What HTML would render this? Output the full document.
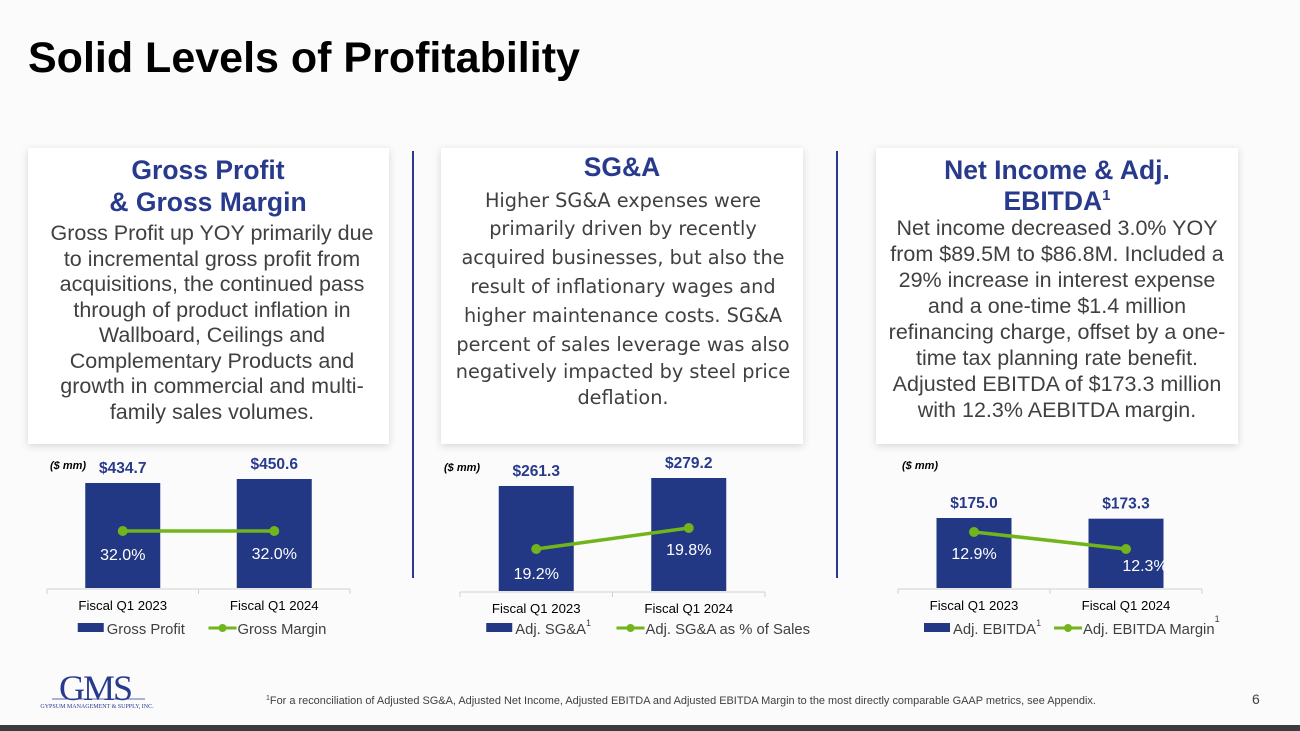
<!DOCTYPE html>
<html><head><meta charset="utf-8">
<style>
body{margin:0;background:#fbfbfb;}
svg{display:block;font-family:"Liberation Sans",Arial,sans-serif;}
.t{fill:#283a8c;font-weight:bold;font-size:26.5px;text-anchor:middle}
.b{fill:#404040;font-size:21.5px;text-anchor:middle}
.b2{fill:#404040;text-anchor:middle;font-family:"DejaVu Sans","Liberation Sans",sans-serif;font-size:19.3px}
</style></head>
<body>
<svg id="s" width="1300" height="731" viewBox="0 0 1300 731">
<defs><filter id="sh" x="-5%" y="-5%" width="110%" height="110%"><feDropShadow dx="0" dy="2" stdDeviation="4" flood-color="#000" flood-opacity="0.15"/></filter></defs>
<rect width="1300" height="731" fill="#fbfbfb"/>
<text x="28" y="72" font-size="43" font-weight="bold" fill="#000">Solid Levels of Profitability</text>

<g>
<rect x="28" y="148" width="361" height="296" fill="#fff" filter="url(#sh)"/>
<text class="t" x="208" y="179">Gross Profit</text>
<text class="t" x="208" y="211">&amp; Gross Margin</text>
<text class="b" x="212" y="240">Gross Profit up YOY primarily due</text>
<text class="b" x="212" y="266">to incremental gross profit from</text>
<text class="b" x="212" y="291">acquisitions, the continued pass</text>
<text class="b" x="212" y="317">through of product inflation in</text>
<text class="b" x="212" y="342">Wallboard, Ceilings and</text>
<text class="b" x="212" y="368">Complementary Products and</text>
<text class="b" x="212" y="393">growth in commercial and multi-</text>
<text class="b" x="212" y="419">family sales volumes.</text>
</g>
<g>
<rect x="441" y="148" width="362" height="296" fill="#fff" filter="url(#sh)"/>
<text class="t" x="622" y="176">SG&amp;A</text>
<text class="b2" x="623" y="207">Higher SG&amp;A expenses were</text>
<text class="b2" x="623" y="235">primarily driven by recently</text>
<text class="b2" x="623" y="264">acquired businesses, but also the</text>
<text class="b2" x="623" y="293">result of inflationary wages and</text>
<text class="b2" x="623" y="322">higher maintenance costs.  SG&amp;A</text>
<text class="b2" x="623" y="351">percent of sales leverage was also</text>
<text class="b2" x="623" y="378">negatively impacted by steel price</text>
<text class="b2" x="623" y="404">deflation.</text>
</g>
<g>
<rect x="876" y="148" width="362" height="296" fill="#fff" filter="url(#sh)"/>
<text class="t" x="1057" y="179">Net Income &amp; Adj.</text>
<text class="t" x="1057" y="210">EBITDA<tspan font-size="15" dy="-10">1</tspan></text>
<text class="b" x="1057" y="235">Net income decreased 3.0% YOY</text>
<text class="b" x="1057" y="261">from $89.5M to $86.8M. Included a</text>
<text class="b" x="1057" y="287">29% increase in interest expense</text>
<text class="b" x="1057" y="313">and a one-time $1.4 million</text>
<text class="b" x="1057" y="339">refinancing charge, offset by a one-</text>
<text class="b" x="1057" y="365">time tax planning rate benefit.</text>
<text class="b" x="1057" y="391">Adjusted EBITDA of $173.3 million</text>
<text class="b" x="1057" y="417">with 12.3% AEBITDA margin.</text>
</g>
<line x1="413" y1="151" x2="413" y2="578" stroke="#283a8c" stroke-width="2"/>
<line x1="837" y1="151" x2="837" y2="578" stroke="#283a8c" stroke-width="2"/>

<g id="charts"></g>

<g>
<text x="95" y="700" font-family="Liberation Serif,serif" font-size="36" fill="#283a8c" text-anchor="middle" letter-spacing="-2">GMS</text>
<line x1="52" y1="699" x2="145" y2="699" stroke="#283a8c" stroke-width="0.8"/>
<text x="97" y="708" font-family="Liberation Serif,serif" font-size="6" fill="#283a8c" text-anchor="middle">GYPSUM MANAGEMENT &amp; SUPPLY, INC.</text>
</g>
<text x="266" y="704" font-size="10.95" fill="#404040"><tspan font-size="7" dy="-4">1</tspan><tspan dy="4">For a reconciliation of Adjusted SG&amp;A, Adjusted Net Income, Adjusted EBITDA and Adjusted EBITDA Margin to the most directly comparable GAAP metrics, see Appendix.</tspan></text>
<text x="1252" y="704" font-size="14" fill="#404040">6</text>
<rect x="0" y="725" width="1300" height="6" fill="#3c3c3c"/>
</svg>
<script>
const categories = ["Fiscal Q1 2023", "Fiscal Q1 2024"];
const grossProfit = [434.7, 450.6];
const grossMargin = [32.0, 32.0];
const sgaValues = [261.3, 279.2];
const sgaPct = [19.2, 19.8];
const ebitdaValues = [175.0, 173.3];
const ebitdaMargin = [12.9, 12.3];

const NS = "http://www.w3.org/2000/svg";
const root = document.getElementById("charts");
function mk(tag, attrs, parent, txt) {
  const e = document.createElementNS(NS, tag);
  for (const k in attrs) e.setAttribute(k, attrs[k]);
  if (txt !== undefined) e.textContent = txt;
  parent.appendChild(e);
  return e;
}
function lin(d0, d1, r0, r1) { return v => r0 + (v - d0) / (d1 - d0) * (r1 - r0); }

const cfg = [
  {name:"gross-profit", bars:grossProfit, line:grossMargin, x0:47, x1:350, base:588,
   yb:lin(17, 450.6, 588, 479), yl:lin(31, 32, 566, 531), unit:"($ mm)", unitX:50, unitY:469,
   legB:"Gross Profit", legL:"Gross Margin", sup:false, legY:633, pctOff:[29,28], shift:[0,0]},
  {name:"sga", bars:sgaValues, line:sgaPct, x0:460, x1:765, base:591,
   yb:lin(26, 279.2, 591, 478), yl:lin(19.2, 19.8, 549, 528), unit:"($ mm)", unitX:444, unitY:471,
   legB:"Adj. SG&A", legL:"Adj. SG&A as % of Sales", sup:true, legY:633, pctOff:[30,27], shift:[0,0]},
  {name:"ebitda", bars:ebitdaValues, line:ebitdaMargin, x0:898, x1:1202, base:588,
   yb:lin(0, 175, 588, 518), yl:lin(12.3, 12.9, 549, 532), unit:"($ mm)", unitX:902, unitY:469,
   legB:"Adj. EBITDA", legL:"Adj. EBITDA Margin", sup:true, legY:633, pctOff:[27,22], shift:[0,19]}
];

cfg.forEach(c => {
  const g = mk("g", {}, root);
  
  
  const bw = (c.x1 - c.x0) / categories.length;
  const u = mk("text", {x:c.unitX, y:c.unitY, "font-size":11, "font-weight":"bold", "font-style":"italic", fill:"#000"}, g, c.unit);
  
  
  const pts = [];
  c.bars.forEach((v, i) => {
    const cx = c.x0 + bw * (i + 0.5);
    const top = c.yb(v);
    const r = mk("rect", {x:cx - 37.5, y:top, width:75, height:c.base - top, fill:"#233884"}, g);
    
    
    const lbl = mk("text", {x:cx, y:top - 10, "font-size":15.5, "font-weight":"bold", fill:"#283a8c", "text-anchor":"middle"}, g, "$" + v.toFixed(1));
    
    
    const cat = mk("text", {x:cx, y:c.base + 22, "font-size":13.2, fill:"#000", "text-anchor":"middle"}, g, categories[i]);
    
    
    pts.push([cx, c.yl(c.line[i])]);
  });
  const ax = mk("path", {d:`M${c.x0} ${c.base+1}H${c.x1}M${c.x0} ${c.base+1}v5M${(c.x0+c.x1)/2} ${c.base+1}v5M${c.x1} ${c.base+1}v5`, stroke:"#d0d0d0", "stroke-width":1, fill:"none"}, g);
  
  
  const pl = mk("polyline", {points:pts.map(p => p.join(",")).join(" "), stroke:"#72b41c", "stroke-width":3.5, fill:"none"}, g);
  
  
  pts.forEach((p, i) => {
    const d = mk("circle", {cx:p[0], cy:p[1], r:5, fill:"#72b41c"}, g);
    
    
    const t = mk("text", {x:p[0] + c.shift[i], y:p[1] + c.pctOff[i], "font-size":16, fill:"#fff", "text-anchor":"middle"}, g, c.line[i].toFixed(1) + "%");
    
    
  });
  const mid = (c.x0 + c.x1) / 2;
  const lg = mk("g", {}, g);
  
  
  const bx = c.x0 + bw * 0.5 - 45 + (c.name === "gross-profit" ? 0 : -5);
  mk("rect", {x:bx, y:c.legY - 10, width:26, height:9, fill:"#233884"}, lg);
  const lt = mk("text", {x:bx + 29, y:c.legY + 1, "font-size":14.8, fill:"#404040"}, lg, c.legB);
  if (c.sup) mk("tspan", {"font-size":9, dy:-8}, lt, "1");
  const lx = mid + (c.name === "gross-profit" ? 10 : 4);
  mk("line", {x1:lx, y1:c.legY - 5, x2:lx + 28, y2:c.legY - 5, stroke:"#72b41c", "stroke-width":3}, lg);
  mk("circle", {cx:lx + 14, cy:c.legY - 5, r:4, fill:"#72b41c"}, lg);
  const lt2 = mk("text", {x:lx + 29, y:c.legY + 1, "font-size":14.8, fill:"#404040"}, lg, c.legL);
  if (c.sup && c.name === "ebitda") mk("tspan", {"font-size":9, dy:-12}, lt2, "1");
});
</script>
</body></html>
